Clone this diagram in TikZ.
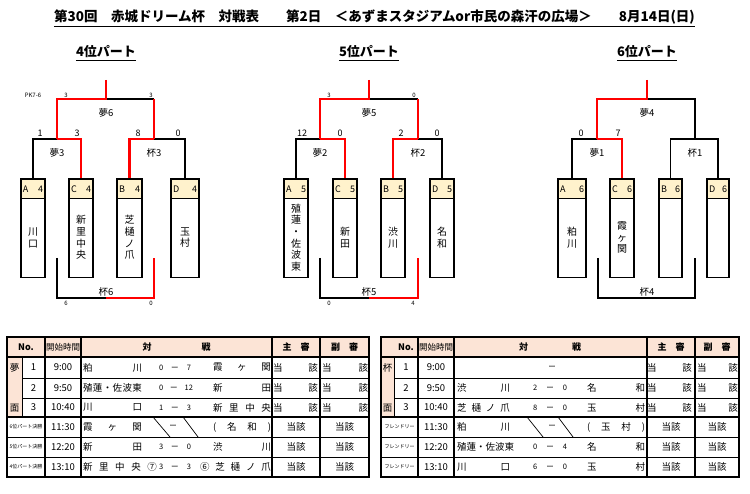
\documentclass[tikz,border=0pt]{standalone}
\usepackage{fontspec}
\setmainfont{Noto Sans CJK JP}
\usetikzlibrary{positioning}
\definecolor{headyel}{HTML}{FFF2CC}
\definecolor{peach}{HTML}{FCE4D6}
\tikzset{
	win/.style = {red, line width = 2.6pt},
	lose/.style = {black, line width = 1.3pt},
	teambox/.style = {draw, line width = 1.4pt, minimum height = 98.5pt, inner sep = 0pt, anchor = north},
	headbox/.style = {draw, line width = 1.4pt, fill = headyel, minimum height = 19.5pt, inner xsep = 2pt, inner ysep = 0pt, anchor = north, font = \fontsize{9}{9}\selectfont},
	namev/.style = {align = center, inner sep = 0pt, font = \fontsize{10}{11.7}\selectfont},
	lbl/.style = {inner sep = 0pt, font = \fontsize{9.5}{10}\selectfont},
	sc/.style = {inner sep = 0pt, font = \fontsize{9}{10}\selectfont},
	scs/.style = {inner sep = 0pt, font = \fontsize{6}{6}\selectfont},
	part/.style = {inner sep = 0pt, font = \bfseries\fontsize{13}{13}\selectfont},
	cell/.style = {inner sep = 0pt, font = \fontsize{9.5}{10}\selectfont},
	hd/.style = {inner sep = 0pt, font = \bfseries\fontsize{9}{10}\selectfont},
	num/.style = {inner sep = 0pt, font = \fontsize{7.5}{8}\selectfont},
	tiny/.style = {inner sep = 0pt, font = \fontsize{5}{5}\selectfont},
	thinl/.style = {line width = 0.7pt},
	midl/.style = {line width = 1.1pt},
	thickl/.style = {line width = 1.8pt}
}

\begin{document}
\begin{tikzpicture}[x = 1pt, y = -1pt]
		\useasboundingbox (0, 0) rectangle (750, 494);
		%%%%%%%%%%%%% titles
		\node[part, font = \bfseries\fontsize{13.5}{14}\selectfont] (ttl) at (374.5, 17.5) {第30回　赤城ドリーム杯　対戦表　　第2日　＜あずまスタジアムor市民の森汗の広場＞　　8月14日(日)};
		\draw[line width = 0.9pt] ([yshift = -1.5pt]ttl.south west) to ([yshift = -1.5pt]ttl.south east);
		\node[part] (p4) at (106, 52) {4位パート};
		\node[part] (p5) at (369, 52) {5位パート};
		\node[part] (p6) at (647, 52) {6位パート};
		\foreach \p in {p4, p5, p6}
			\draw[line width = 0.9pt] ([yshift = -2pt]\p.south west) to ([yshift = -2pt]\p.south east);
		%%%%%%%%%%%%% team boxes
		\foreach \id/\x/\w/\ltr/\num/\team [evaluate = \w as \tw using \w - 4] in {
				a4/33/24/A/4/{川\\口}, c4/81/24/C/4/{新\\里\\中\\央}, b4/129.5/25/B/4/{芝\\樋\\ノ\\爪}, d4/185/28/D/4/{玉\\村},
				a5/296/24/A/5/{殖\\蓮\\・\\佐\\波\\東}, c5/345/24/C/5/{新\\田}, b5/393/24/B/5/{渋\\川}, d5/442/24/D/5/{名\\和},
				a6/572/28/A/6/{粕\\川}, c6/622/24/C/6/{霞\\ヶ\\関}, b6/670.5/23/B/6/{}, d6/718/22/D/6/{}} {
			\node[teambox, minimum width = \w pt] (\id) at (\x, 178.5) {};
			\node[headbox, text width = \tw pt] (\id h) at (\id.north) {\ltr\hfill\num};
			\node[namev] (\id n) at (\x, 237.5) {\team};
		}
		%%%%%%%%%%%%% 4th place part
		\coordinate (yume3) at (57, 139); \coordinate (hai3) at (154, 139);
		\coordinate (yume6) at (106, 99); \coordinate (yume6top) at (106, 80);
		\coordinate (hai6) at (106, 298); \coordinate (hai6l) at (57, 258); \coordinate (hai6r) at (154, 258);
		\draw[lose] (a4.north) |- (yume3);
		\draw[lose] (hai3) -| (d4.north);
		\draw[lose] (yume6) -- (yume6 -| hai3);
		\draw[lose] (hai6l) |- (hai6);
		\draw[win] (yume3) -| (c4.north);
		\draw[win] (b4.north) |- (hai3);
		\draw[win] (yume6top) -- (yume6) -| (yume3);
		\draw[win] (yume6 -| hai3) -- (hai3);
		\draw[win] (hai6) -| (hai6r);
		\node[lbl, below = 9pt of yume6] (lyume6) {夢6};
		\node[lbl, below = 9pt of yume3] (lyume3) {夢3};
		\node[lbl, below = 9pt of hai3] (lhai3) {杯3};
		\node[lbl, above = 2pt of hai6] (lhai6) {杯6};
		\node[scs] (pk) at (33, 95) {PK7-6};
		\node[scs] (s61) at (66, 95) {3}; \node[scs] (s62) at (151, 95) {3};
		\node[sc] (s31) at (40, 133) {1}; \node[sc] (s32) at (77, 133) {3};
		\node[sc] (s33) at (138, 133) {8}; \node[sc] (s34) at (178, 133) {0};
		\node[scs] (s65) at (66, 303) {6}; \node[scs] (s66) at (151, 303) {0};
		%%%%%%%%%%%%% 5th place part
		\coordinate (yume2) at (320, 139); \coordinate (hai2) at (418, 139);
		\coordinate (yume5) at (369, 99); \coordinate (yume5top) at (369, 80);
		\coordinate (hai5) at (369, 298); \coordinate (hai5l) at (320, 258); \coordinate (hai5r) at (418, 258);
		\draw[lose] (a5.north) |- (yume2);
		\draw[lose] (hai2) -| (d5.north);
		\draw[lose] (yume5) -- (yume5 -| hai2);
		\draw[lose] (hai5l) |- (hai5);
		\draw[win] (yume2) -| (c5.north);
		\draw[win] (b5.north) |- (hai2);
		\draw[win] (yume5top) -- (yume5) -| (yume2);
		\draw[win] (yume5 -| hai2) -- (hai2);
		\draw[win] (hai5) -| (hai5r);
		\node[lbl, below = 9pt of yume5] (lyume5) {夢5};
		\node[lbl, below = 9pt of yume2] (lyume2) {夢2};
		\node[lbl, below = 9pt of hai2] (lhai2) {杯2};
		\node[lbl, above = 2pt of hai5] (lhai5) {杯5};
		\node[scs] (s51) at (329, 95) {3}; \node[scs] (s52) at (414, 95) {0};
		\node[sc] (s21) at (302, 133) {12}; \node[sc] (s22) at (340, 133) {0};
		\node[sc] (s23) at (401, 133) {2}; \node[sc] (s24) at (437, 133) {0};
		\node[scs] (s55) at (329, 303) {0}; \node[scs] (s56) at (413, 303) {4};
		%%%%%%%%%%%%% 6th place part
		\coordinate (yume1) at (597, 139); \coordinate (hai1) at (695, 139);
		\coordinate (yume4) at (647, 99); \coordinate (yume4top) at (647, 80);
		\coordinate (hai4) at (647, 298); \coordinate (hai4l) at (598, 258); \coordinate (hai4r) at (695, 258);
		\draw[lose] (a6.north) |- (yume1);
		\draw[lose] (b6.north) |- (hai1) -| (d6.north);
		\draw[lose] (yume4) -| (hai1);
		\draw[lose] (hai4l) |- (hai4) -| (hai4r);
		\draw[win] (yume1) -| (c6.north);
		\draw[win] (yume4top) -- (yume4) -| (yume1);
		\node[lbl, below = 9pt of yume4] (lyume4) {夢4};
		\node[lbl, below = 9pt of yume1] (lyume1) {夢1};
		\node[lbl, below = 9pt of hai1] (lhai1) {杯1};
		\node[lbl, above = 2pt of hai4] (lhai4) {杯4};
		\node[sc] (s11) at (581, 133) {0}; \node[sc] (s12) at (618, 133) {7};
		%%%%%%%%%%%%% left table
		\fill[peach] (7, 337) rectangle (369, 357);
		\fill[peach] (7, 357) rectangle (22, 417);
		\draw[thinl] (22, 357) -- (22, 417);
		\foreach \y in {378, 398} \draw[thinl] (22, \y) -- (369, \y);
		\foreach \y in {437, 457} \draw[thinl] (7, \y) -- (369, \y);
		\foreach \x in {45, 81, 272, 320} \draw[midl] (\x, 337) -- (\x, 477);
		\draw[midl] (7, 357) -- (369, 357);
		\draw[thickl] (7, 417) -- (369, 417);
		\draw[thickl] (7, 337) rectangle (369, 477);
		\draw[thinl] (153, 417) -- (170, 437); \draw[thinl] (183, 417) -- (198, 437);
		\node[hd] (lhno) at (26, 347) {No.};
		\node[hd, font = \fontsize{8.5}{9}\selectfont] (lhtime) at (63, 347) {開始時間};
		\node[hd, text width = 68pt] (lhvs) at (176.5, 347) {対\hfill 戦};
		\node[hd] (lhmain) at (296, 347) {主　審};
		\node[hd] (lhsub) at (344.5, 347) {副　審};
		\node[cell] (lyu) at (14.5, 368) {夢};
		\node[cell] (lmen) at (14.5, 408) {面};
		\foreach \r/\y/\no/\tm in {1/367.5/1/9:00, 2/388/2/9:50, 3/407.5/3/10:40} {
			\node[cell] (lno\r) at (33.5, \y) {\no};
			\node[cell] (ltm\r) at (63, \y) {\tm};
			\node[cell, text width = 45pt] (lref\r) at (295.5, \y) {当\hfill 該};
			\node[cell, text width = 46pt] (lsub\r) at (345, \y) {当\hfill 該};
		}
		\foreach \r/\y/\lab/\tm in {4/427/6位パート決勝/11:30, 5/447/5位パート決勝/12:20, 6/467/4位パート決勝/13:10} {
			\node[tiny] (lno\r) at (26, \y) {\lab};
			\node[cell] (ltm\r) at (63, \y) {\tm};
			\node[cell] (lref\r) at (296, \y) {当該};
			\node[cell] (lsub\r) at (344.5, \y) {当該};
		}
		\node[cell, text width = 59pt] (lta1) at (112.5, 367.5) {粕\hfill 川};
		\node[num, text width = 32pt] (lsc1) at (175, 367.5) {0\hfill ー\hfill 7};
		\node[cell, text width = 58pt] (ltb1) at (242, 367.5) {霞\hfill ヶ\hfill 関};
		\node[cell, text width = 59pt] (lta2) at (112.5, 388) {殖\hfill 蓮\hfill ・\hfill 佐\hfill 波\hfill 東};
		\node[num, text width = 34pt] (lsc2) at (176, 388) {0\hfill ー\hfill 12};
		\node[cell, text width = 58pt] (ltb2) at (242, 388) {新\hfill 田};
		\node[cell, text width = 59pt] (lta3) at (112.5, 407.5) {川\hfill 口};
		\node[num, text width = 32pt] (lsc3) at (175, 407.5) {1\hfill ー\hfill 3};
		\node[cell, text width = 58pt] (ltb3) at (242, 407.5) {新\hfill 里\hfill 中\hfill 央};
		\node[cell, text width = 59pt] (lta4) at (112.5, 427) {霞\hfill ヶ\hfill 関};
		\node[num] (lsc4) at (173, 427) {ー};
		\node[cell, text width = 58pt] (ltb4) at (242, 427) {(\hfill 名\hfill 和\hfill )};
		\node[cell, text width = 59pt] (lta5) at (112.5, 447) {新\hfill 田};
		\node[num, text width = 32pt] (lsc5) at (175, 447) {3\hfill ー\hfill 0};
		\node[cell, text width = 58pt] (ltb5) at (242, 447) {渋\hfill 川};
		\node[cell, text width = 74pt] (lta6) at (120, 467) {新\hfill 里\hfill 中\hfill 央\hfill ⑦};
		\node[num, text width = 32pt] (lsc6) at (175, 467) {3\hfill ー\hfill 3};
		\node[cell, text width = 71pt] (ltb6) at (235.5, 467) {⑥\hfill 芝\hfill 樋\hfill ノ\hfill 爪};
		%%%%%%%%%%%%% right table
		\fill[peach] (381, 337) rectangle (739, 357);
		\fill[peach] (381, 357) rectangle (394, 417);
		\draw[thinl] (394, 357) -- (394, 417);
		\foreach \y in {378, 398} \draw[thinl] (394, \y) -- (739, \y);
		\foreach \y in {437, 457} \draw[thinl] (381, \y) -- (739, \y);
		\foreach \x in {418, 454, 647, 695} \draw[midl] (\x, 337) -- (\x, 477);
		\draw[midl] (381, 357) -- (739, 357);
		\draw[thickl] (381, 417) -- (739, 417);
		\draw[thickl] (381, 337) rectangle (739, 477);
		\draw[thinl] (527, 417) -- (543, 437); \draw[thinl] (558, 417) -- (573, 437);
		\node[hd] (rhno) at (406, 347) {No.};
		\node[hd, font = \fontsize{8.5}{9}\selectfont] (rhtime) at (436, 347) {開始時間};
		\node[hd, text width = 62pt] (rhvs) at (550, 347) {対\hfill 戦};
		\node[hd] (rhmain) at (671, 347) {主　審};
		\node[hd] (rhsub) at (717, 347) {副　審};
		\node[cell] (rhai) at (387.5, 368) {杯};
		\node[cell] (rmen) at (387.5, 408) {面};
		\foreach \r/\y/\no/\tm in {1/367.5/1/9:00, 2/388/2/9:50, 3/407.5/3/10:40} {
			\node[cell] (rno\r) at (406, \y) {\no};
			\node[cell] (rtm\r) at (436, \y) {\tm};
			\node[cell, text width = 45pt] (rref\r) at (669.5, \y) {当\hfill 該};
			\node[cell, text width = 41pt] (rsub\r) at (717.5, \y) {当\hfill 該};
		}
		\foreach \r/\y/\tm in {4/427/11:30, 5/447/12:20, 6/467/13:10} {
			\node[tiny] (rno\r) at (399.5, \y) {フレンドリー};
			\node[cell] (rtm\r) at (436, \y) {\tm};
			\node[cell] (rref\r) at (671, \y) {当該};
			\node[cell] (rsub\r) at (717, \y) {当該};
		}
		\node[num] (rsc1) at (552, 367.5) {ー};
		\node[cell, text width = 53pt] (rta2) at (483.5, 388) {渋\hfill 川};
		\node[num, text width = 34pt] (rsc2) at (550, 388) {2\hfill ー\hfill 0};
		\node[cell, text width = 58pt] (rtb2) at (616, 388) {名\hfill 和};
		\node[cell, text width = 53pt] (rta3) at (483.5, 407.5) {芝\hfill 樋\hfill ノ\hfill 爪};
		\node[num, text width = 34pt] (rsc3) at (550, 407.5) {8\hfill ー\hfill 0};
		\node[cell, text width = 58pt] (rtb3) at (616, 407.5) {玉\hfill 村};
		\node[cell, text width = 53pt] (rta4) at (483.5, 427) {粕\hfill 川};
		\node[num] (rsc4) at (552, 427) {ー};
		\node[cell, text width = 58pt] (rtb4) at (616, 427) {(\hfill 玉\hfill 村\hfill )};
		\node[cell, anchor = west] (rta5) at (457, 447) {殖蓮・佐波東};
		\node[num, text width = 34pt] (rsc5) at (550, 447) {0\hfill ー\hfill 4};
		\node[cell, text width = 58pt] (rtb5) at (616, 447) {名\hfill 和};
		\node[cell, text width = 53pt] (rta6) at (483.5, 467) {川\hfill 口};
		\node[num, text width = 34pt] (rsc6) at (550, 467) {6\hfill ー\hfill 0};
		\node[cell, text width = 58pt] (rtb6) at (616, 467) {玉\hfill 村};
\end{tikzpicture}
\end{document}
